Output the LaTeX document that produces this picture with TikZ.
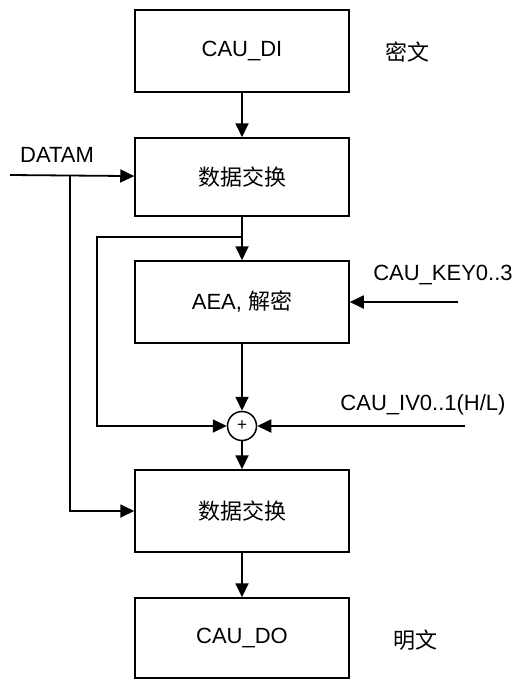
\documentclass[tikz,border=0pt]{standalone}
\usepackage{fontspec}
\setmainfont{Liberation Sans}
\newfontfamily\cjk{Noto Sans CJK SC}
\usepackage{tikz}
\usetikzlibrary{calc, arrows.meta, positioning}

\begin{document}
\begin{tikzpicture}[
    x=1pt, y=-1pt,
    font=\fontsize{22}{26}\selectfont,
    block/.style={rectangle, draw=black, line width=1.5pt, minimum width=214pt, minimum height=82pt, inner sep=0pt},
    xorop/.style={circle, draw=black, line width=1.5pt, minimum size=29pt, inner sep=0pt, font=\fontsize{17}{19}\selectfont},
    flow/.style={draw=black, line width=1.8pt, -{Triangle[length=14pt, width=13pt]}}
]
    \useasboundingbox (0,0) rectangle (516,680);

    \node [block] (di) at (242,51) {CAU\_DI};
    \node [block, minimum height=78pt] (swapa) at (242,177) {\cjk 数据交换};
    \node [block] (aea) at (242,302) {AEA, {\cjk 解密}};
    \node [xorop] (xor) at (242,426) {+};
    \node [block] (swapb) at (242,511) {\cjk 数据交换};
    \node [block, minimum height=80pt] (do) at (242,638) {CAU\_DO};

    \node (cipher) at (407,52) {\cjk 密文};
    \node (plain) at (415,640) {\cjk 明文};
    \node (datam) at (57,155) {DATAM};
    \node (keylbl) at (443,275) {CAU\_KEY0..3};
    \node (ivlbl) at (423,405) {CAU\_IV0..1(H/L)};

    \coordinate (din) at (10,175);
    \coordinate (split) at (70,175);
    \coordinate (tap) at (242,237);
    \coordinate (loop) at (97,237);
    \coordinate (keyin) at (458,302);
    \coordinate (ivin) at (465,426);

    \draw [flow] (di) -- (swapa);
    \draw [flow] (swapa) -- (aea);
    \draw [flow] (aea) -- (xor);
    \draw [flow] (xor) -- (swapb);
    \draw [flow] (swapb) -- (do);

    \draw [flow] (din) -- (swapa);
    \draw [flow] (split) |- (swapb);
    \draw [flow] (tap) -- (loop) |- (xor);
    \draw [flow] (keyin) -- (aea);
    \draw [flow] (ivin) -- (xor);
\end{tikzpicture}
\end{document}
